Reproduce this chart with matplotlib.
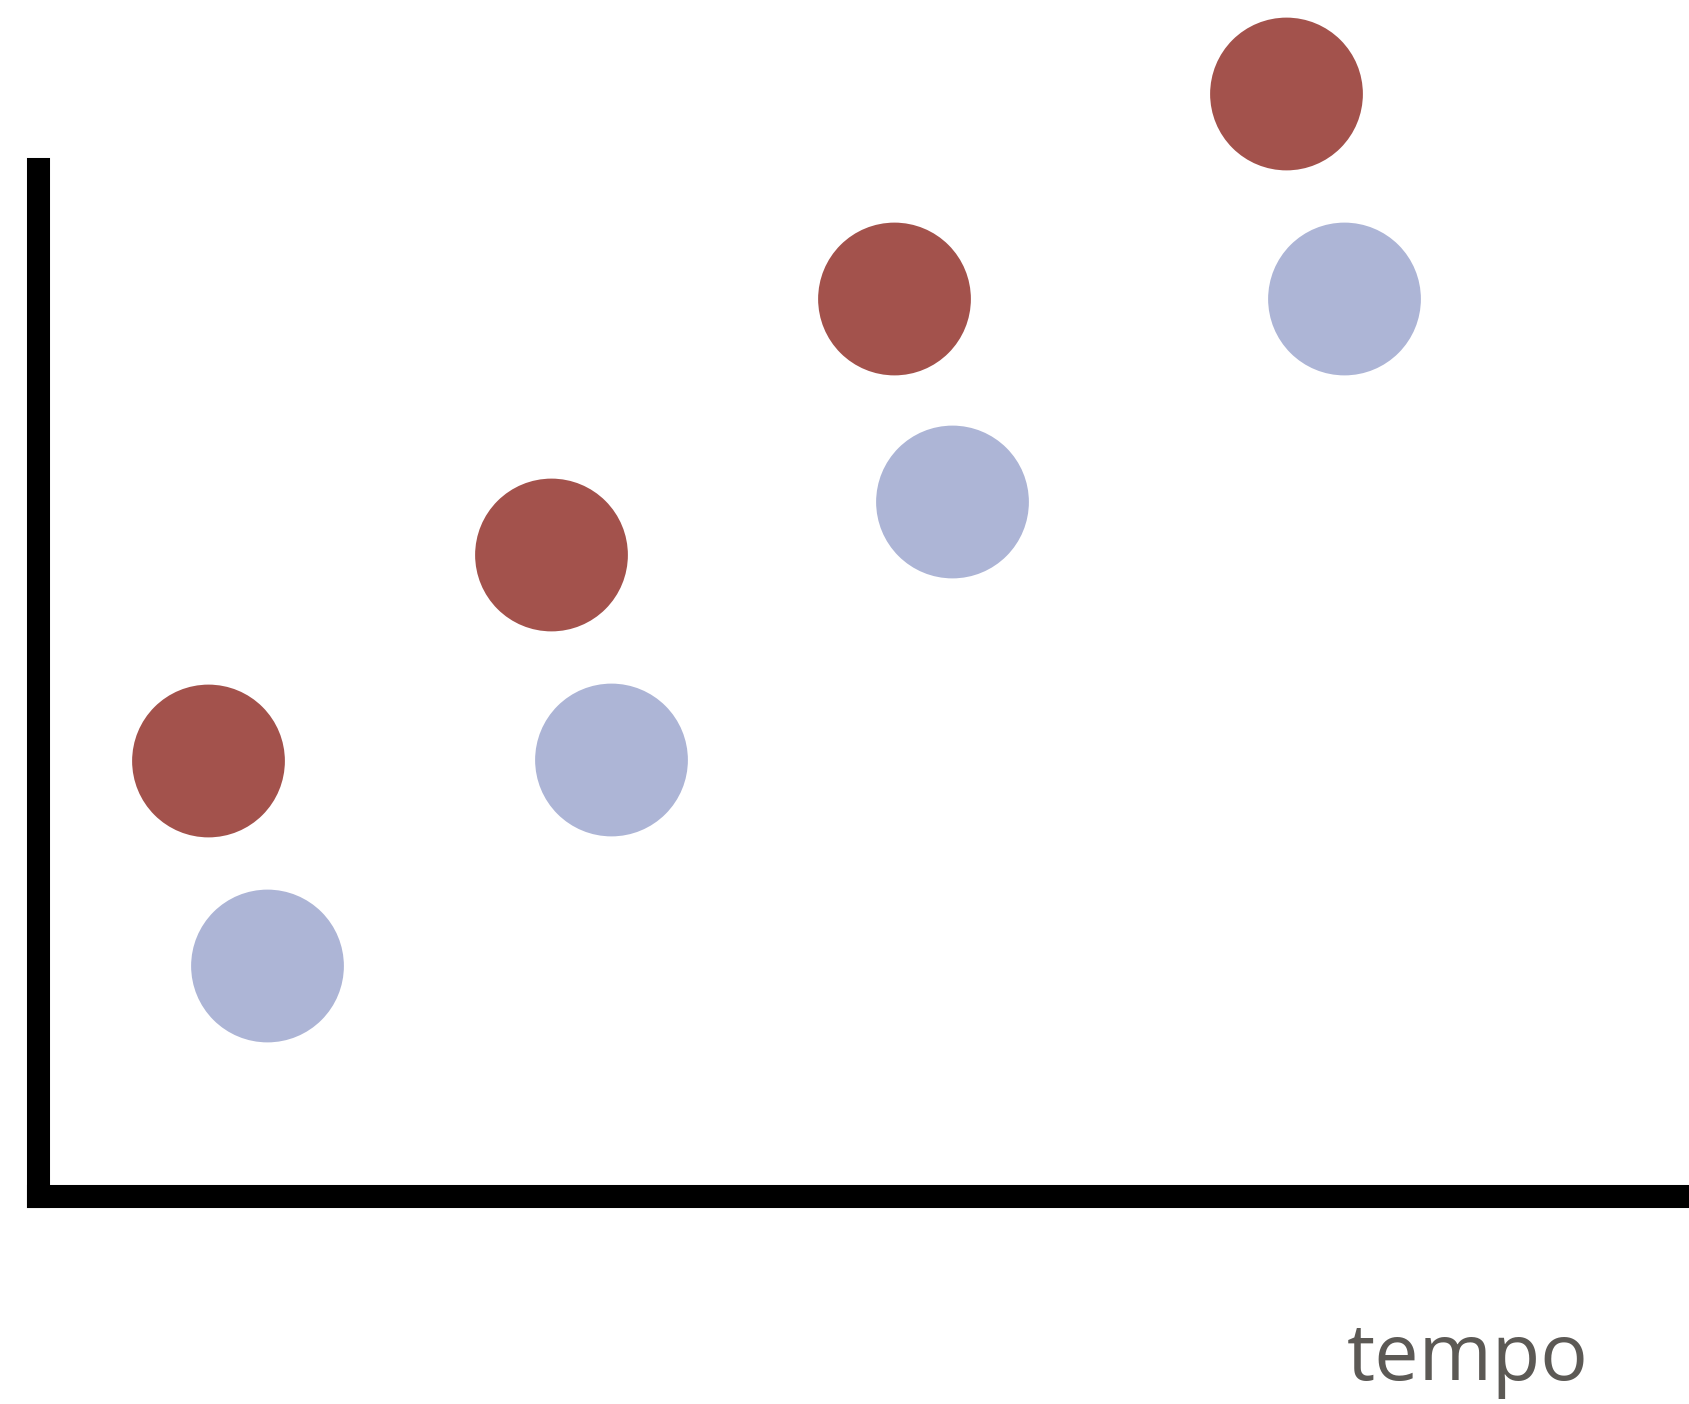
import matplotlib
matplotlib.use("Agg")
import matplotlib.pyplot as plt

# tempo (x) and value (y) for each group
tempo_red = [1.70, 5.13, 8.56, 12.48]
value_red = [4.35, 6.41, 8.97, 11.02]
tempo_blue = [2.29, 5.73, 9.14, 13.06]
value_blue = [2.30, 4.36, 6.94, 8.97]

W, H = 1690, 1404
fig = plt.figure(figsize=(W / 100, H / 100), dpi=100)
# spines have projecting caps, so the top of the axes sits half a line width lower
ax = fig.add_axes([38.5 / W, (H - 1196) / H, (W - 38.5) / W, 1027.5 / H])

ax.scatter(tempo_red, value_red, s=110 ** 2, color="#a3524c", edgecolors="none", clip_on=False, zorder=3)
ax.scatter(tempo_blue, value_blue, s=110 ** 2, color="#adb5d6", edgecolors="none", clip_on=False, zorder=3)

ax.set_xlim(0, 16.515)
ax.set_ylim(0, 10.275)
ax.set_xticks([])
ax.set_yticks([])
for side in ["top", "right"]:
    ax.spines[side].set_visible(False)
for side in ["left", "bottom"]:
    ax.spines[side].set_linewidth(16.6)
    ax.spines[side].set_color("black")

fig.text(1347 / W, 1 - 1380 / H, "tempo", family="Open Sans", fontsize=57,
         color="#5c5955", ha="left", va="baseline")

fig.savefig("out.png", dpi=100)
